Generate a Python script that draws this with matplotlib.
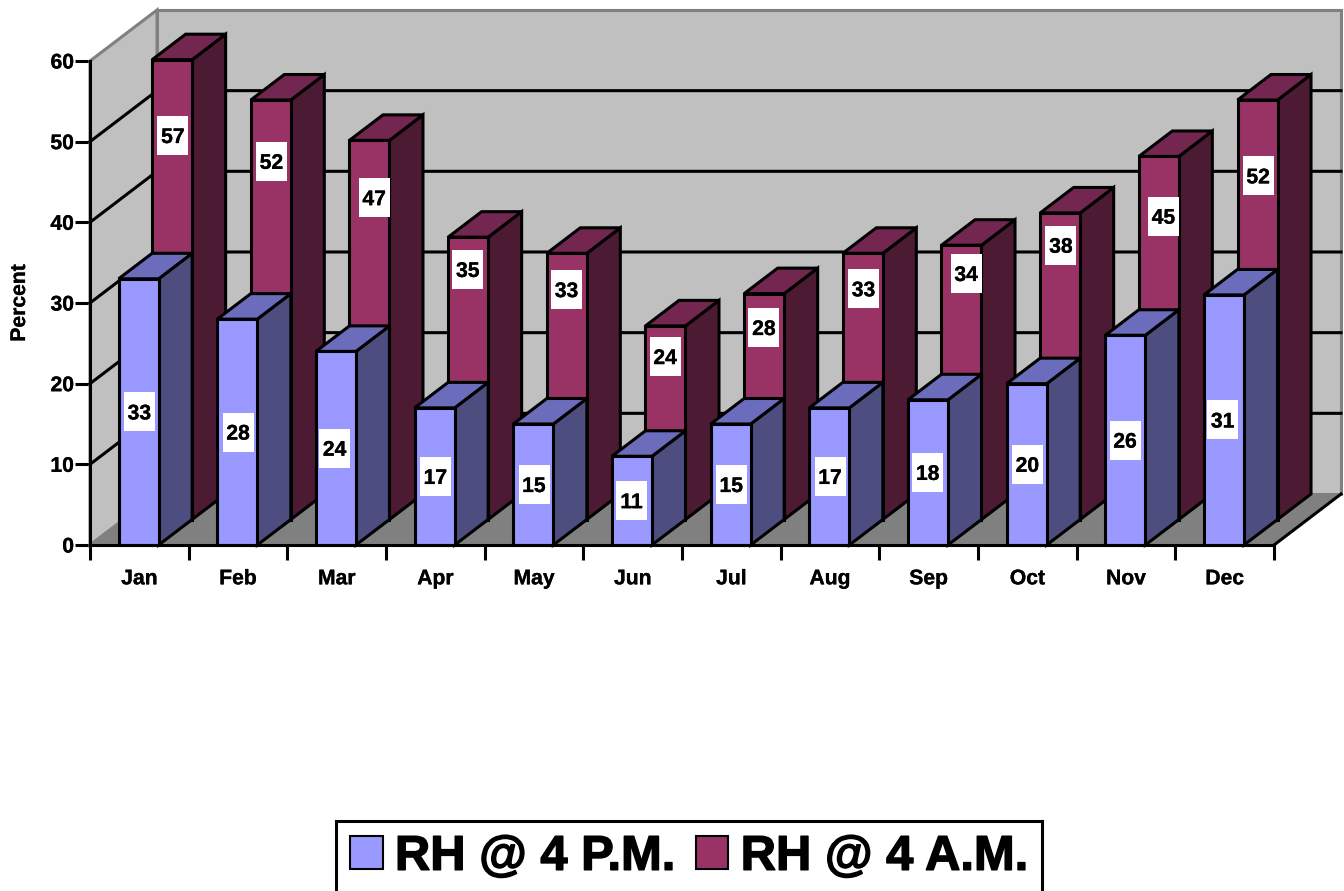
import matplotlib
matplotlib.use('Agg')
import matplotlib.pyplot as plt
import matplotlib.patheffects as pe
from matplotlib.patches import Patch, Polygon

plt.rcParams['font.family'] = ['Liberation Sans', 'DejaVu Sans']
plt.rcParams['font.weight'] = 'bold'

months = ['Jan', 'Feb', 'Mar', 'Apr', 'May', 'Jun', 'Jul', 'Aug', 'Sep', 'Oct', 'Nov', 'Dec']
rh_4pm = [33, 28, 24, 17, 15, 11, 15, 17, 18, 20, 26, 31]
rh_4am = [57, 52, 47, 35, 33, 24, 28, 33, 34, 38, 45, 52]
# where the 4 A.M. labels sit on the bar face, in percent, and their sideways nudge in pixels
rh_4am_label_at = [47.6, 44.4, 39.9, 31, 28.5, 20.2, 23.8, 28.6, 30.5, 34, 37.6, 42.6]
rh_4am_label_nudge = [0, 0, 4, -1, -1, -1, -1, 0, 4, 0, 4, 0]
rh_4pm_label_nudge = [0, 0, -2, 0, 0, -1, 0, 0, -1, 0, -1, -2]

PM_COLORS = ('#9999FF', '#4D4D80', '#6C6CBC')
AM_COLORS = ('#993366', '#4D1A33', '#732650')
BLACK_LW = 2.2
FONT_SIZE = 15.2

# pixels per unit, the chart is a flat axes with an oblique depth
PX_X = 98.67
PX_Y = 8.067
DEPTH_X = 33.5 / PX_X
DEPTH_Y = 25.5 / PX_Y
BAR_W = 40 / PX_X
BAR_SHIFT = -0.7 / PX_X

heavy = [pe.withStroke(linewidth=0.2, foreground='black')]


def project(x, y, depth=0):
    return x + depth * DEPTH_X, y + depth * DEPTH_Y


def face(ax, pts, color, edge='black', lw=BLACK_LW):
    ax.add_patch(Polygon(pts, closed=True, facecolor=color, edgecolor=edge, linewidth=lw,
                         joinstyle='miter', zorder=2))


def draw_bar(ax, center, value, depth, colors):
    x0 = center - BAR_W / 2 + BAR_SHIFT
    x1 = center + BAR_W / 2 + BAR_SHIFT
    d0, d1 = depth, depth + 1
    # side first, then top, then the front
    face(ax, [project(x1, 0, d0), project(x1, value, d0), project(x1, value, d1), project(x1, 0, d1)], colors[1])
    face(ax, [project(x0, value, d0), project(x1, value, d0), project(x1, value, d1), project(x0, value, d1)], colors[2])
    face(ax, [project(x0, 0, d0), project(x1, 0, d0), project(x1, value, d0), project(x0, value, d0)], colors[0])


def value_box(ax, center, y, depth, value, nudge=0):
    x, y = project(center + nudge / PX_X, y, depth)
    ax.add_patch(plt.Rectangle((x - 15.5 / PX_X, y - 19.5 / PX_Y), 31 / PX_X, 39 / PX_Y,
                               facecolor='white', edgecolor='none', zorder=4))
    ax.text(x, y, str(value), ha='center', va='center_baseline', fontsize=FONT_SIZE, color='black',
            zorder=5, path_effects=heavy)


fig = plt.figure(figsize=(13.44, 8.91), dpi=100)
ax = fig.add_axes([0, 0, 1, 1])
ax.set_xlim(-90 / PX_X, (1344 - 90) / PX_X)
ax.set_ylim(-(891 - 545) / PX_Y, 545 / PX_Y)
ax.patch.set_visible(False)

n = len(months)
top = 60
wall = '#C0C0C0'
floor = '#808080'

# walls and floor
face(ax, [project(0, 0, 2), project(n, 0, 2), project(n, top, 2), project(0, top, 2)], wall, floor, 2.2)
face(ax, [project(0, 0, 0), project(0, 0, 2), project(0, top, 2), project(0, top, 0)], wall, floor, 2.2)
face(ax, [project(0, 0, 0), project(n, 0, 0), project(n, 0, 2), project(0, 0, 2)], floor, floor, 1)
ax.plot(*zip(project(n, 0, 0), project(n, 0, 2)), color='black', lw=BLACK_LW, zorder=2)

# gridlines over both walls
for v in range(10, top, 10):
    ax.plot(*zip(project(0, v, 0), project(0, v, 2), project(n, v, 2)), color='black', lw=BLACK_LW, zorder=2)

for i, v in enumerate(rh_4am):
    draw_bar(ax, i + 0.5, v, 1, AM_COLORS)
for i, v in enumerate(rh_4pm):
    draw_bar(ax, i + 0.5, v, 0, PM_COLORS)

for i, v in enumerate(rh_4am):
    value_box(ax, i + 0.5, rh_4am_label_at[i], 1, v, rh_4am_label_nudge[i])
for i, v in enumerate(rh_4pm):
    value_box(ax, i + 0.5, v / 2, 0, v, rh_4pm_label_nudge[i])

# real axes, moved onto the zero corner
for side in ['top', 'right']:
    ax.spines[side].set_visible(False)
ax.spines['left'].set_position(('data', 0))
ax.spines['bottom'].set_position(('data', 0))
ax.spines['left'].set_bounds(0, top)
ax.spines['bottom'].set_bounds(0, n)
ax.spines['left'].set_linewidth(BLACK_LW)
ax.spines['bottom'].set_linewidth(BLACK_LW)
ax.set_yticks(range(0, top + 1, 10))
ax.set_xticks(range(n + 1))
ax.set_xticklabels([])
ax.set_xticks([i + 0.5 for i in range(n)], minor=True)
ax.set_xticklabels(months, minor=True, fontsize=FONT_SIZE)
ax.tick_params(axis='x', which='major', length=10.5, width=BLACK_LW)
ax.tick_params(axis='x', which='minor', length=0, pad=17.5)
ax.tick_params(axis='y', length=10.5, width=BLACK_LW, labelsize=FONT_SIZE, pad=1)
for lab in ax.get_xticklabels(minor=True) + ax.get_yticklabels():
    lab.set_path_effects(heavy)

ax.text(19.5 / PX_X - 90 / PX_X, (545 - 303) / PX_Y, 'Percent', rotation=90, ha='center', va='center',
        fontsize=FONT_SIZE, path_effects=heavy)

handles = [Patch(facecolor=PM_COLORS[0], edgecolor='black', linewidth=1.5, label='RH @ 4 P.M.'),
           Patch(facecolor=AM_COLORS[0], edgecolor='black', linewidth=1.5, label='RH @ 4 A.M.')]
leg = ax.legend(handles=handles, ncols=2, loc='lower center', bbox_to_anchor=(689 / 1344, -3 / 891),
                prop={'family': 'Liberation Sans', 'weight': 'bold', 'size': 35.2},
                frameon=True, fancybox=False, framealpha=1, edgecolor='black',
                handlelength=0.67, handleheight=0.65, handletextpad=0.25, columnspacing=0.42,
                borderpad=0.29, borderaxespad=0)
leg.get_frame().set_linewidth(BLACK_LW)
for txt in leg.get_texts():
    txt.set_path_effects([pe.withStroke(linewidth=1.0, foreground='black')])

fig.savefig('out.png', dpi=100)
